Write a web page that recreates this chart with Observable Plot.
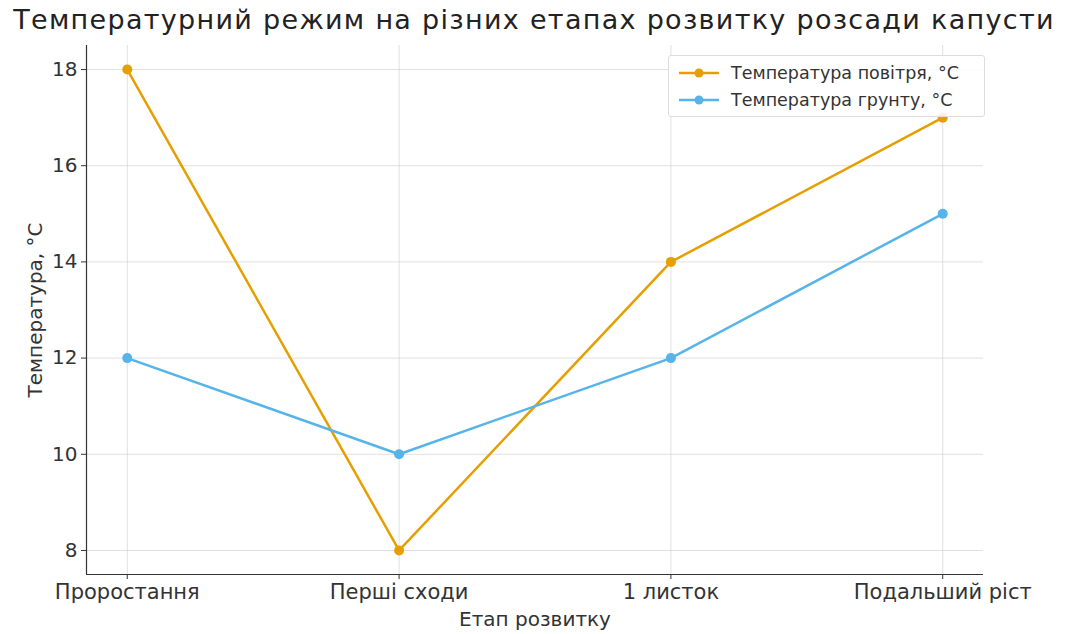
<!DOCTYPE html>
<html><head><meta charset="utf-8">
<script src="https://cdn.jsdelivr.net/npm/d3@7"></script>
<script src="https://cdn.jsdelivr.net/npm/@observablehq/plot@0.6"></script>
<style>
html,body{margin:0;padding:0;background:#fff;}
#wrap{position:relative;width:1068px;height:634px;font-family:"DejaVu Sans",sans-serif;overflow:hidden;}
#title{position:absolute;left:0;top:4px;width:1068px;text-align:center;font-size:27px;letter-spacing:1.3px;color:#222;white-space:nowrap;}
#chart{position:absolute;left:0;top:40px;}
#legend{position:absolute;left:668px;top:55px;width:317px;height:62px;border:1px solid #ddd;border-radius:3px;background:rgba(255,255,255,0.85);font-size:17.5px;color:#333;box-sizing:border-box;padding-top:3px;}
.li{display:flex;align-items:center;height:27px;margin-left:8px;}
.li svg{margin-right:10px;}
</style></head>
<body><div id="wrap"><div id="title"></div><div id="chart"></div><div id="legend"></div></div>
<script>
const title = "Температурний режим на різних етапах розвитку розсади капусти";
const stages = ["Проростання", "Перші сходи", "1 листок", "Подальший ріст"];
const airTemp = [18, 8, 14, 17];
const soilTemp = [12, 10, 12, 15];
const seriesNames = ["Температура повітря, °C", "Температура грунту, °C"];
const seriesColors = ["#E69F00", "#56B4E9"];
const yTicks = [8, 10, 12, 14, 16, 18];
const xLabel = "Етап розвитку";
const yLabel = "Температура, °C";

document.getElementById("title").textContent = title;

const rows = [];
stages.forEach((s, i) => {
  rows.push({i, stage: s, value: airTemp[i], series: seriesNames[0]});
  rows.push({i, stage: s, value: soilTemp[i], series: seriesNames[1]});
});

const chart = Plot.plot({
  width: 1068,
  height: 594,
  marginTop: 5,
  marginBottom: 60,
  marginLeft: 86,
  marginRight: 85,
  style: {fontFamily: "DejaVu Sans, sans-serif", fontSize: "16px", color: "#333", background: "#fff", overflow: "visible"},
  x: {type: "linear", domain: [-0.15, 3.15], ticks: [0,1,2,3], tickFormat: d => stages[d], label: null},
  y: {domain: [7.5, 18.5], ticks: yTicks, label: null},
  color: {domain: seriesNames, range: seriesColors},
  marks: [
    Plot.gridX([0,1,2,3], {stroke: "#ccc", strokeOpacity: 0.6}),
    Plot.gridY(yTicks, {stroke: "#ccc", strokeOpacity: 0.6}),
    Plot.axisY({ticks: yTicks, tickSize: 5, tickPadding: 4, fontSize: 20, label: null}),
    Plot.axisX({ticks: [0,1,2,3], tickFormat: d => stages[d], tickSize: 5, tickPadding: 5, fontSize: 21, label: null}),
    Plot.ruleX([-0.15], {stroke: "#333", strokeWidth: 1.2}),
    Plot.ruleY([7.5], {stroke: "#333", strokeWidth: 1.2}),
    Plot.line(rows, {x: "i", y: "value", stroke: "series", z: "series", strokeWidth: 2.5}),
    Plot.dot(rows, {x: "i", y: "value", fill: "series", r: 5}),
    Plot.text([xLabel], {frameAnchor: "bottom", dy: 51, fontSize: 20, fill: "#333"}),
    Plot.text([yLabel], {frameAnchor: "left", textAnchor: "middle", dx: -51, rotate: -90, fontSize: 20, fill: "#333"})
  ]
});
document.getElementById("chart").appendChild(chart);

const leg = document.getElementById("legend");
seriesNames.forEach((n, k) => {
  const d = document.createElement("div");
  d.className = "li";
  d.innerHTML = `<svg width="44" height="12"><line x1="2" y1="6" x2="42" y2="6" stroke="${seriesColors[k]}" stroke-width="2.5"/><circle cx="22" cy="6" r="4.5" fill="${seriesColors[k]}"/></svg><span></span>`;
  d.querySelector("span").textContent = n;
  leg.appendChild(d);
});
</script></body></html>
